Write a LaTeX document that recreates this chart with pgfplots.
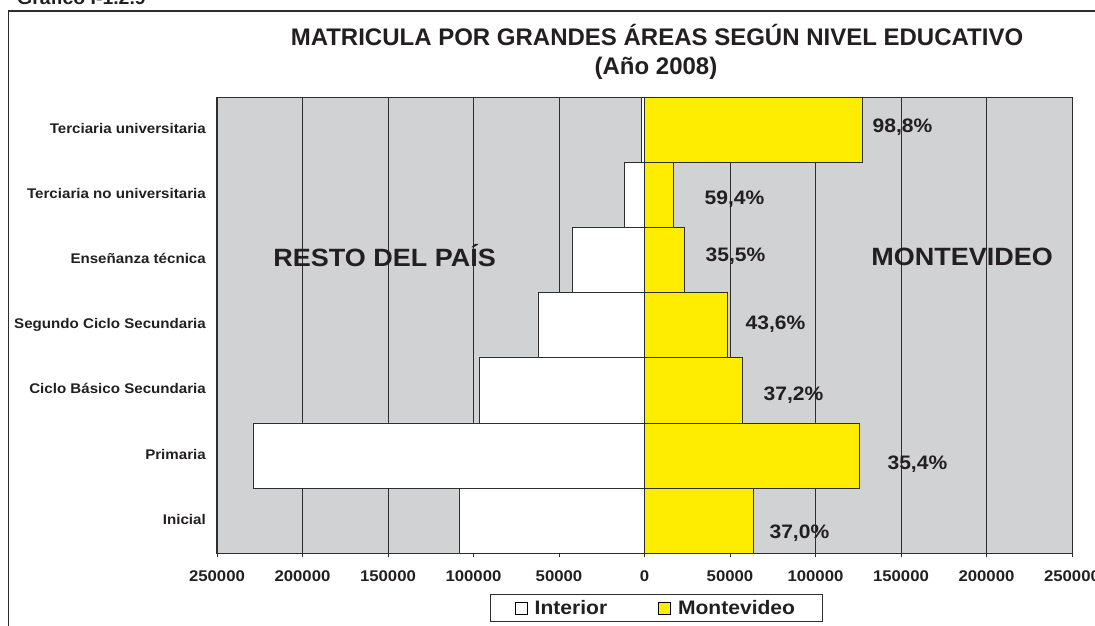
\documentclass[border=0pt]{standalone}
\usepackage{fontspec}
\setmainfont{Liberation Sans}[FakeStretch=1.08]
\newfontfamily\titlefont{Liberation Sans}
\usepackage{pgfplots}
\pgfplotsset{compat=1.18}
\definecolor{bg}{RGB}{209,210,212}
\definecolor{myyellow}{RGB}{255,237,0}
\definecolor{txt}{RGB}{35,31,32}
\definecolor{edge}{RGB}{45,45,45}
\begin{document}
\begin{tikzpicture}[x=1pt,y=1pt]
\useasboundingbox (0,0) rectangle (1095,625);
\draw[edge,line width=1.2pt] (8.5,-5) -- (8.5,614) -- (1100,614);
\node[anchor=base west,inner sep=0pt,font=\fontsize{18}{20}\selectfont\bfseries,text=txt] at (17,620) {Gráfico I-1.2.9};
\node[anchor=base,inner sep=0pt,font=\titlefont\fontsize{24}{28}\selectfont\bfseries,text=txt] at (657,579) {MATRICULA POR GRANDES ÁREAS SEGÚN NIVEL EDUCATIVO};
\node[anchor=base,inner sep=0pt,font=\titlefont\fontsize{24}{28}\selectfont\bfseries,text=txt] at (656,550.7) {(Año 2008)};
\begin{axis}[
  at={(217pt,71.7pt)}, anchor=south west,
  scale only axis, width=855pt, height=456.3pt,
  xmin=-250000, xmax=250000, ymin=-0.5, ymax=6.5,
  axis background/.style={fill=bg},
  axis line style={edge, line width=1pt},
  xbar, bar width=1, bar shift=0pt,
  scaled x ticks=false,
  xtick={-250000,-200000,-150000,-100000,-50000,0,50000,100000,150000,200000,250000},
  xticklabels={250000,200000,150000,100000,50000,0,50000,100000,150000,200000,250000},
  ytick={0,1,2,3,4,5,6},
  yticklabels={Inicial,Primaria,Ciclo Básico Secundaria,Segundo Ciclo Secundaria,Enseñanza técnica,Terciaria no universitaria,Terciaria universitaria},
  xmajorgrids, grid style={edge, line width=0.9pt},
  tick align=outside, major tick length=4pt,
  xtick pos=bottom,
  xtick style={edge, line width=0.9pt},
  ytick style={draw=none},
  xticklabel style={font=\fontsize{15.5}{16}\selectfont\bfseries, text=txt, anchor=base, inner sep=0pt, yshift=-24pt},
  yticklabel style={font=\fontsize{14}{15}\selectfont\bfseries, text=txt, anchor=east, inner sep=0pt, text height=0.716em, text depth=0pt, xshift=-7pt},
  legend style={at={(axis description cs:0.514,-0.12)}, anchor=center, legend columns=2,
    draw=edge, line width=1pt, fill=white,
    font=\fontsize{19.5}{20}\selectfont\bfseries, text=txt,
    inner xsep=24pt, inner ysep=3pt,
    nodes={inner sep=3pt},
    cells={anchor=west},
    /tikz/every even column/.append style={column sep=48pt}},
]
\addplot[fill=white, draw=edge, line width=0.8pt,
  legend image code/.code={\draw[fill=white,draw=black,line width=0.8pt] (0pt,-6pt) rectangle (12pt,6pt); \path (16pt,0pt);}]
  coordinates {(-108500,0) (-229000,1) (-96500,2) (-62300,3) (-42200,4) (-11600,5) (-1550,6)};
\addlegendentry{Interior}
\addplot[fill=myyellow, draw=edge, line width=0.8pt,
  legend image code/.code={\draw[fill=myyellow,draw=black,line width=0.8pt] (0pt,-6pt) rectangle (12pt,6pt); \path (16pt,0pt);}]
  coordinates {(63800,0) (125500,1) (57300,2) (48200,3) (23200,4) (17000,5) (127500,6)};
\addlegendentry{Montevideo}
\begin{scope}[every node/.style={anchor=base, inner sep=0pt, text=txt, font=\fontsize{19.5}{20}\selectfont\bfseries}]
\node at (axis cs:150900,5.955) {98,8\%};
\node at (axis cs:52600,4.855) {59,4\%};
\node at (axis cs:53200,3.984) {35,5\%};
\node at (axis cs:76600,2.926) {43,6\%};
\node at (axis cs:87100,1.841) {37,2\%};
\node at (axis cs:159600,0.789) {35,4\%};
\node at (axis cs:90600,-0.27) {37,0\%};
\node[font=\fontsize{25}{26}\selectfont\bfseries] at (axis cs:-152000,3.897) {RESTO DEL PAÍS};
\node[font=\fontsize{25}{26}\selectfont\bfseries] at (axis cs:185700,3.91) {MONTEVIDEO};
\end{scope}
\end{axis}
\end{tikzpicture}
\end{document}
